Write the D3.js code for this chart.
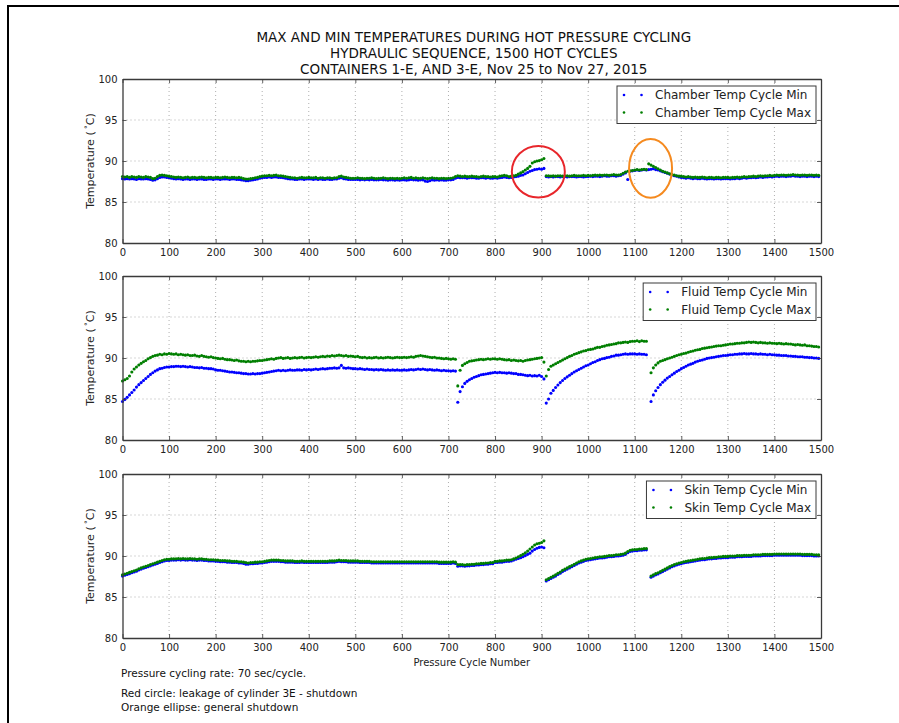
<!DOCTYPE html>
<html><head><meta charset="utf-8">
<script src="https://cdn.jsdelivr.net/npm/d3@7"></script>
<style>
body{margin:0;background:#fff}
svg{display:block}
text{font-family:"DejaVu Sans",sans-serif;fill:#222}
</style>
</head><body>
<svg id="chart" width="899" height="723"></svg>
<script>
// ---------------- DATA ----------------
const titleLines = [
  "MAX AND MIN TEMPERATURES DURING HOT PRESSURE CYCLING",
  "HYDRAULIC SEQUENCE, 1500 HOT CYCLES",
  "CONTAINERS 1-E, AND 3-E, Nov 25 to Nov 27, 2015"
];
const xTicks = [0,100,200,300,400,500,600,700,800,900,1000,1100,1200,1300,1400,1500];
const yTicks = [80,85,90,95,100];
const xLabel = "Pressure Cycle Number";
const footNotes = [
  "Pressure cycling rate: 70 sec/cycle.",
  "Red circle: leakage of cylinder 3E - shutdown",
  "Orange ellipse: general shutdown"
];
// cycle numbers sampled every 5 cycles (0..1495)
const cycles = d3.range(0, 1500, 5);

const chamberMin = [
87.85,87.8,87.85,87.8,87.85,87.8,87.75,87.85,87.8,87.8,87.85,87.8,87.75,87.65,87.7,87.85,88.0,88.05,88.05,88.0,
87.95,87.9,87.85,87.8,87.85,87.8,87.75,87.8,87.8,87.75,87.8,87.8,87.75,87.8,87.8,87.75,87.75,87.8,87.8,87.75,
87.8,87.8,87.75,87.8,87.8,87.8,87.75,87.8,87.8,87.75,87.75,87.7,87.65,87.6,87.6,87.65,87.7,87.75,87.8,87.9,
87.95,88.0,88.0,88.05,88.0,88.05,88.05,88.0,88.0,87.95,87.9,87.85,87.8,87.8,87.75,87.75,87.8,87.8,87.75,87.8,
87.8,87.8,87.75,87.8,87.75,87.8,87.75,87.75,87.8,87.75,87.75,87.8,87.8,87.9,87.95,87.85,87.8,87.75,87.75,87.75,
87.75,87.75,87.7,87.75,87.7,87.75,87.7,87.75,87.7,87.7,87.7,87.75,87.7,87.7,87.65,87.7,87.7,87.65,87.7,87.65,
87.7,87.7,87.65,87.7,87.75,87.7,87.7,87.65,87.7,87.7,87.55,87.5,87.6,87.7,87.65,87.7,87.65,87.7,87.65,87.65,
87.7,87.7,87.75,87.9,88.0,87.95,87.95,87.95,87.9,87.95,87.95,87.95,87.9,87.9,87.95,87.95,87.9,87.95,87.9,87.9,
87.95,87.9,87.95,88.0,88.05,88.0,87.95,88.0,88.05,88.1,88.15,88.25,88.3,88.45,88.6,88.75,88.85,88.95,89.0,89.05,
89.0,89.1,88.1,88.05,88.1,88.05,88.1,88.1,88.05,88.1,88.1,88.05,88.1,88.1,88.1,88.05,88.1,88.1,88.05,88.1,
88.1,88.15,88.1,88.15,88.15,88.1,88.15,88.2,88.15,88.15,88.2,88.2,88.15,88.2,88.25,88.4,88.55,87.75,88.75,88.8,
88.85,88.9,88.85,88.9,88.95,88.9,88.95,89.0,89.05,88.95,88.9,88.8,88.7,88.6,88.5,88.4,88.3,88.2,88.15,88.05,
88.0,87.95,87.9,87.95,87.9,87.85,87.9,87.85,87.85,87.9,87.85,87.8,87.85,87.85,87.8,87.85,87.85,87.8,87.85,87.85,
87.85,87.8,87.85,87.85,87.9,87.85,87.9,87.95,87.9,87.95,87.95,88.0,87.95,88.0,88.05,88.0,88.05,88.05,88.1,88.05,
88.1,88.15,88.1,88.15,88.15,88.1,88.15,88.15,88.2,88.15,88.15,88.1,88.15,88.15,88.1,88.15,88.15,88.1,88.15,88.1
];
const chamberMax = [
88.1,88.05,88.1,88.0,88.1,88.05,88.0,88.1,88.05,88.0,88.1,88.05,88.0,87.85,87.9,88.1,88.25,88.3,88.25,88.2,
88.15,88.1,88.05,88.0,88.05,88.0,87.95,88.0,88.05,87.95,88.0,88.0,87.95,88.0,88.05,88.0,87.95,88.0,88.0,87.95,
88.0,88.0,87.95,88.0,88.05,88.0,87.95,88.0,88.0,87.95,88.0,87.95,87.85,87.8,87.8,87.85,87.9,87.95,88.0,88.1,
88.15,88.2,88.2,88.25,88.2,88.25,88.3,88.2,88.2,88.15,88.1,88.05,88.0,87.95,87.95,87.9,87.95,88.0,87.95,87.95,
88.0,87.95,87.95,88.0,87.9,87.95,87.95,87.9,87.95,87.95,87.9,87.95,87.95,88.1,88.15,88.05,88.0,87.95,87.9,87.9,
87.9,87.95,87.9,87.9,87.85,87.9,87.9,87.95,87.9,87.85,87.9,87.9,87.95,87.9,87.85,87.9,87.9,87.85,87.9,87.85,
87.9,87.95,87.9,87.95,88.0,87.9,87.95,87.9,87.9,87.95,87.9,87.85,87.9,87.95,87.9,87.9,87.85,87.9,87.9,87.85,
87.9,87.9,87.95,88.1,88.2,88.15,88.1,88.15,88.1,88.1,88.15,88.1,88.1,88.05,88.1,88.15,88.1,88.1,88.05,88.1,
88.1,88.05,88.15,88.2,88.25,88.2,88.1,88.15,88.2,88.25,88.4,88.55,88.7,88.9,89.1,89.35,89.75,89.9,90.0,90.05,
90.15,90.3,88.2,88.2,88.15,88.2,88.15,88.2,88.2,88.15,88.2,88.2,88.15,88.2,88.25,88.2,88.2,88.2,88.25,88.2,
88.25,88.2,88.25,88.3,88.25,88.3,88.25,88.3,88.3,88.25,88.3,88.35,88.3,88.3,88.35,88.5,88.65,88.75,88.8,88.85,
88.9,88.95,88.9,88.95,89.0,88.95,89.65,89.5,89.35,89.2,89.05,88.9,88.75,88.65,88.55,88.45,88.35,88.3,88.2,88.15,
88.15,88.1,88.05,88.1,88.05,88.0,88.05,88.0,88.0,88.05,88.0,87.95,88.0,88.0,87.95,88.0,88.0,87.95,88.0,88.0,
88.0,87.95,88.0,88.0,88.05,88.0,88.05,88.1,88.05,88.1,88.1,88.15,88.1,88.15,88.2,88.15,88.2,88.2,88.25,88.2,
88.25,88.3,88.25,88.3,88.3,88.25,88.3,88.3,88.35,88.3,88.3,88.25,88.3,88.3,88.25,88.3,88.3,88.25,88.3,88.25
];
const fluidMin = [
84.7,84.95,85.2,85.5,85.8,86.1,86.45,86.75,87.0,87.25,87.5,87.75,88.0,88.2,88.4,88.55,88.7,88.75,88.85,88.9,
88.9,88.95,88.95,89.0,89.0,88.95,89.0,88.95,88.9,88.95,88.9,88.85,88.85,88.8,88.85,88.75,88.75,88.7,88.7,88.65,
88.55,88.5,88.5,88.45,88.4,88.35,88.3,88.3,88.25,88.2,88.2,88.15,88.1,88.1,88.05,88.05,88.1,88.05,88.1,88.1,
88.15,88.2,88.25,88.3,88.35,88.4,88.45,88.5,88.45,88.5,88.45,88.5,88.55,88.5,88.5,88.55,88.55,88.5,88.6,88.55,
88.6,88.55,88.6,88.65,88.6,88.65,88.7,88.65,88.7,88.75,88.75,88.8,88.75,88.8,89.1,88.8,88.75,88.8,88.75,88.7,
88.7,88.65,88.7,88.65,88.6,88.65,88.6,88.6,88.55,88.6,88.55,88.6,88.55,88.5,88.55,88.5,88.55,88.5,88.55,88.5,
88.5,88.55,88.5,88.55,88.6,88.55,88.6,88.65,88.6,88.65,88.6,88.55,88.6,88.55,88.5,88.55,88.5,88.45,88.5,88.45,
88.45,88.4,88.45,88.4,84.6,85.9,86.5,86.9,87.15,87.35,87.5,87.65,87.75,87.85,87.95,88.0,88.05,88.1,88.15,88.2,
88.25,88.2,88.25,88.2,88.2,88.15,88.2,88.15,88.1,88.1,88.0,88.0,87.95,87.9,87.85,87.9,87.8,87.85,87.8,87.9,
87.75,87.45,84.5,85.0,85.7,86.05,86.4,86.7,87.0,87.25,87.5,87.7,87.9,88.1,88.3,88.45,88.6,88.75,88.9,89.05,
89.15,89.3,89.45,89.55,89.7,89.8,89.9,89.95,90.05,90.1,90.2,90.25,90.35,90.35,90.4,90.45,90.5,90.45,90.5,90.5,
90.5,90.45,90.5,90.45,90.45,90.4,null,84.7,85.5,86.0,86.4,86.75,87.05,87.3,87.55,87.75,87.95,88.15,88.35,88.5,
88.7,88.85,89.0,89.15,89.25,89.35,89.5,89.6,89.7,89.75,89.85,89.95,90.0,90.05,90.1,90.15,90.2,90.25,90.3,90.3,
90.35,90.4,90.4,90.45,90.45,90.5,90.5,90.55,90.5,90.5,90.55,90.5,90.5,90.45,90.5,90.45,90.45,90.4,90.45,90.4,
90.4,90.35,90.35,90.3,90.3,90.3,90.25,90.25,90.2,90.2,90.15,90.15,90.15,90.1,90.1,90.05,90.05,90.0,90.0,89.95
];
const fluidMax = [
87.2,87.35,87.5,87.8,88.3,88.65,88.9,89.15,89.35,89.55,89.7,89.9,90.05,90.2,90.3,90.35,90.45,90.4,90.5,90.45,
90.55,90.5,90.45,90.5,90.4,90.45,90.4,90.35,90.4,90.3,90.3,90.35,90.25,90.2,90.3,90.2,90.15,90.1,90.15,90.05,
90.0,89.95,89.9,89.95,89.85,89.8,89.8,89.75,89.7,89.75,89.65,89.6,89.6,89.55,89.6,89.55,89.6,89.6,89.65,89.7,
89.7,89.75,89.8,89.85,89.9,89.85,89.95,90.0,90.05,89.95,90.0,90.05,89.95,90.0,90.05,90.0,90.05,90.1,90.0,90.05,
90.1,90.05,90.1,90.15,90.1,90.15,90.2,90.15,90.25,90.2,90.3,90.25,90.3,90.35,90.3,90.25,90.3,90.2,90.25,90.2,
90.15,90.2,90.1,90.05,90.1,90.0,90.05,90.0,90.05,90.1,90.0,90.05,90.0,90.05,90.1,90.05,90.0,90.05,90.1,90.05,
90.05,90.1,90.05,90.1,90.15,90.1,90.2,90.25,90.3,90.25,90.2,90.15,90.1,90.05,90.1,90.0,90.0,89.95,89.9,89.95,
89.9,89.85,89.9,89.85,86.6,88.5,89.1,89.3,89.45,89.6,89.65,89.7,89.75,89.8,89.85,89.8,89.85,89.9,89.85,89.9,
89.9,89.85,89.9,89.85,89.8,89.75,89.8,89.7,89.75,89.7,89.65,89.7,89.6,89.7,89.75,89.8,89.85,89.9,89.95,90.0,
90.05,89.5,87.8,88.6,89.0,89.15,89.3,89.45,89.6,89.75,89.9,90.05,90.2,90.3,90.45,90.55,90.65,90.75,90.85,90.9,
91.0,91.05,91.1,91.2,91.3,91.3,91.4,91.45,91.55,91.6,91.65,91.7,91.75,91.85,91.85,91.9,91.95,91.9,92.0,92.05,
92.05,92.1,92.0,92.1,92.05,92.05,null,88.2,88.8,89.15,89.4,89.6,89.7,89.8,89.9,90.0,90.1,90.2,90.3,90.4,
90.45,90.55,90.6,90.7,90.8,90.85,90.95,91.0,91.05,91.15,91.2,91.25,91.3,91.35,91.4,91.45,91.5,91.5,91.55,91.6,
91.65,91.7,91.7,91.75,91.8,91.8,91.85,91.85,91.9,91.95,91.9,91.95,91.9,91.85,91.9,91.85,91.85,91.8,91.85,91.8,
91.8,91.75,91.8,91.75,91.7,91.75,91.7,91.7,91.65,91.6,91.65,91.6,91.55,91.6,91.5,91.5,91.45,91.4,91.4,91.35
];
const skinMin = [
87.55,87.65,87.75,87.85,87.95,88.05,88.15,88.3,88.4,88.5,88.6,88.7,88.8,88.9,89.0,89.1,89.2,89.3,89.4,89.45,
89.45,89.5,89.5,89.5,89.55,89.5,89.55,89.5,89.5,89.55,89.5,89.5,89.45,89.5,89.5,89.45,89.45,89.4,89.4,89.4,
89.35,89.35,89.3,89.3,89.3,89.25,89.25,89.2,89.2,89.2,89.15,89.15,89.1,89.0,89.0,89.05,89.05,89.1,89.1,89.15,
89.15,89.2,89.25,89.3,89.35,89.35,89.35,89.35,89.3,89.3,89.25,89.25,89.25,89.25,89.2,89.2,89.2,89.25,89.2,89.2,
89.2,89.2,89.2,89.2,89.2,89.2,89.2,89.2,89.2,89.25,89.25,89.25,89.3,89.35,89.3,89.3,89.3,89.25,89.25,89.25,
89.25,89.25,89.2,89.2,89.2,89.2,89.2,89.15,89.15,89.15,89.15,89.15,89.15,89.15,89.15,89.15,89.15,89.15,89.15,89.15,
89.15,89.15,89.15,89.15,89.15,89.15,89.15,89.15,89.15,89.15,89.15,89.15,89.15,89.15,89.15,89.15,89.1,89.1,89.1,89.1,
89.1,89.1,89.15,89.1,88.75,88.8,88.8,88.75,88.8,88.8,88.85,88.85,88.9,88.9,88.95,88.95,89.0,89.0,89.05,89.05,
89.2,89.2,89.25,89.25,89.3,89.35,89.35,89.4,89.5,89.6,89.7,89.8,89.9,90.05,90.2,90.35,90.6,90.8,90.95,91.05,
91.1,91.0,86.95,87.1,87.25,87.4,87.55,87.75,87.9,88.1,88.25,88.4,88.55,88.7,88.85,89.0,89.15,89.25,89.35,89.45,
89.5,89.55,89.6,89.65,89.7,89.75,89.75,89.8,89.85,89.9,89.9,89.95,90.0,90.0,90.05,90.1,90.2,90.4,90.55,90.6,
90.65,90.65,90.7,90.7,90.75,90.75,null,87.4,87.55,87.7,87.8,87.95,88.1,88.25,88.4,88.55,88.7,88.8,88.9,89.0,
89.05,89.15,89.2,89.25,89.3,89.35,89.4,89.45,89.5,89.55,89.55,89.6,89.65,89.65,89.7,89.7,89.75,89.75,89.8,89.8,
89.8,89.85,89.85,89.85,89.9,89.9,89.9,89.95,89.95,89.95,89.95,90.0,90.0,90.0,90.0,90.05,90.05,90.05,90.05,90.05,
90.1,90.1,90.1,90.1,90.1,90.1,90.1,90.1,90.1,90.1,90.1,90.1,90.05,90.05,90.05,90.05,90.05,90.0,90.0,90.0
];
const skinMax = [
87.7,87.8,87.9,88.0,88.1,88.2,88.3,88.45,88.55,88.65,88.75,88.85,88.95,89.05,89.15,89.25,89.35,89.45,89.55,89.6,
89.6,89.65,89.65,89.65,89.7,89.65,89.7,89.65,89.65,89.7,89.65,89.65,89.6,89.65,89.65,89.6,89.6,89.55,89.55,89.55,
89.5,89.5,89.45,89.45,89.45,89.4,89.4,89.35,89.35,89.35,89.3,89.3,89.25,89.2,89.15,89.2,89.2,89.25,89.25,89.3,
89.3,89.35,89.4,89.45,89.5,89.5,89.5,89.5,89.45,89.45,89.4,89.4,89.4,89.4,89.35,89.35,89.35,89.4,89.35,89.35,
89.35,89.35,89.35,89.35,89.35,89.35,89.35,89.35,89.35,89.4,89.4,89.4,89.45,89.5,89.45,89.45,89.45,89.4,89.4,89.4,
89.4,89.4,89.35,89.35,89.35,89.35,89.35,89.3,89.3,89.3,89.3,89.3,89.3,89.3,89.3,89.3,89.3,89.3,89.3,89.3,
89.3,89.3,89.3,89.3,89.3,89.3,89.3,89.3,89.3,89.3,89.3,89.3,89.3,89.3,89.3,89.3,89.25,89.25,89.25,89.25,
89.25,89.25,89.3,89.25,88.95,88.95,88.95,88.9,88.95,88.95,89.0,89.0,89.05,89.05,89.1,89.1,89.15,89.15,89.2,89.2,
89.35,89.35,89.4,89.4,89.45,89.5,89.5,89.55,89.65,89.75,89.9,90.05,90.2,90.4,90.6,90.85,91.1,91.35,91.5,91.55,
91.65,91.85,87.1,87.25,87.4,87.55,87.7,87.9,88.05,88.25,88.4,88.55,88.7,88.85,89.0,89.15,89.3,89.4,89.5,89.6,
89.65,89.7,89.75,89.8,89.85,89.9,89.9,89.95,90.0,90.05,90.05,90.1,90.15,90.15,90.2,90.25,90.35,90.55,90.7,90.75,
90.8,90.8,90.85,90.85,90.9,90.9,null,87.55,87.7,87.85,87.95,88.1,88.25,88.4,88.55,88.7,88.85,88.95,89.05,89.15,
89.2,89.3,89.35,89.4,89.45,89.5,89.55,89.6,89.65,89.7,89.7,89.75,89.8,89.8,89.85,89.85,89.9,89.9,89.95,89.95,
89.95,90.0,90.0,90.0,90.05,90.05,90.05,90.1,90.1,90.1,90.1,90.15,90.15,90.15,90.15,90.2,90.2,90.2,90.2,90.2,
90.25,90.25,90.25,90.25,90.25,90.25,90.25,90.25,90.25,90.25,90.25,90.25,90.2,90.2,90.2,90.2,90.2,90.15,90.15,90.15
];
// annotation marks on the chamber panel (centre in data coordinates)
const redCircle = {cycle: 893, temp: 88.68};
const orangeEllipse = {cycle: 1134, temp: 89.1};

const panelDefs = [
  {name: "Chamber", min: chamberMin, max: chamberMax},
  {name: "Fluid", min: fluidMin, max: fluidMax},
  {name: "Skin", min: skinMin, max: skinMax}
];

// ---------------- LAYOUT ----------------
const svg = d3.select("#chart");
const L = 122.5, R = 821, PH = 164;
const tops = [79, 276, 474];
const minColor = "#0000ff", maxColor = "#007f00";
const spineColor = "#3a3a3a";
const dotR = 1.55;

// outer frame (top and left edges of the scanned page)
svg.append("path").attr("d", `M8,723 L8,6 L899,6`).attr("fill","none")
  .attr("stroke","#000").attr("stroke-width",2);

// title
titleLines.forEach((t,i)=>{
  svg.append("text").attr("x",(L+R)/2+2).attr("y",42+i*15.8)
    .attr("text-anchor","middle").attr("font-size",13.5).style("fill","#111").text(t);
});

const x = d3.scaleLinear().domain([0,1500]).range([L,R]);

panelDefs.forEach((p,pi)=>{
  const top = tops[pi], bot = top+PH;
  const y = d3.scaleLinear().domain([80,100]).range([bot,top]);
  const g = svg.append("g");

  // grid
  g.append("g").selectAll("line").data(xTicks.filter(v=>v>0&&v<1500)).join("line")
    .attr("x1",d=>x(d)).attr("x2",d=>x(d)).attr("y1",top).attr("y2",bot)
    .attr("stroke","#9a9a9a").attr("stroke-width",0.8).attr("stroke-dasharray","1,3");
  g.append("g").selectAll("line").data(yTicks.filter(v=>v>80&&v<100)).join("line")
    .attr("x1",L).attr("x2",R).attr("y1",d=>y(d)).attr("y2",d=>y(d))
    .attr("stroke","#9a9a9a").attr("stroke-width",0.8).attr("stroke-dasharray","1,3");

  // data points: min first, max on top
  const minPts = cycles.map((c,i)=>({c, v:p.min[i]})).filter(d=>d.v!=null);
  const maxPts = cycles.map((c,i)=>({c, v:p.max[i]})).filter(d=>d.v!=null);
  g.append("g").selectAll("circle").data(minPts).join("circle")
    .attr("cx",d=>x(d.c)).attr("cy",d=>y(d.v)).attr("r",dotR).attr("fill",minColor);
  g.append("g").selectAll("circle").data(maxPts).join("circle")
    .attr("cx",d=>x(d.c)).attr("cy",d=>y(d.v)).attr("r",dotR).attr("fill",maxColor);

  // axes (ticks point inward, as in classic matplotlib)
  const ax = g.append("g").attr("transform",`translate(0,${bot})`)
    .call(d3.axisBottom(x).tickValues(xTicks).tickSizeInner(-4).tickSizeOuter(0).tickPadding(5.5).tickFormat(d3.format("d")));
  const ay = g.append("g").attr("transform",`translate(${L},0)`)
    .call(d3.axisLeft(y).tickValues(yTicks).tickSizeInner(-4).tickSizeOuter(0).tickPadding(5).tickFormat(d3.format("d")));
  const at = g.append("g").attr("transform",`translate(0,${top})`)
    .call(d3.axisTop(x).tickValues(xTicks).tickSizeInner(-4).tickSizeOuter(0).tickFormat(""));
  const ar = g.append("g").attr("transform",`translate(${R},0)`)
    .call(d3.axisRight(y).tickValues(yTicks).tickSizeInner(-4).tickSizeOuter(0).tickFormat(""));
  [ax,ay,at,ar].forEach(a=>{
    a.select(".domain").attr("stroke",spineColor).attr("stroke-width",1.3);
    a.selectAll(".tick line").attr("stroke",spineColor).attr("stroke-width",0.8);
    a.selectAll("text").attr("font-size",10).attr("font-family","DejaVu Sans").style("fill","#222");
  });

  // y label
  const yl = svg.append("text").attr("transform",`translate(94,${(top+bot)/2}) rotate(-90)`)
    .attr("text-anchor","middle").attr("font-size",11);
  yl.append("tspan").text("Temperature (");
  yl.append("tspan").attr("font-size",7.5).attr("dy",-4).text(" \u00B0");
  yl.append("tspan").attr("dy",4).text("C)");

  // legend
  const entries = [{label:`${p.name} Temp Cycle Min`, color:minColor},
                   {label:`${p.name} Temp Cycle Max`, color:maxColor}];
  const lg = svg.append("g");
  const box = lg.append("rect").attr("fill","#fff").attr("stroke",spineColor).attr("stroke-width",1);
  const texts = entries.map((e,i)=>lg.append("text").attr("font-size",12)
      .attr("y",top+16+i*17.5).attr("dy","0.35em").text(e.label));
  const tw = d3.max(texts, t=>t.node().getComputedTextLength());
  const textEnd = R-10;
  const tx = textEnd - tw;
  texts.forEach(t=>t.attr("x",tx));
  entries.forEach((e,i)=>{
    [tx-31, tx-13.5].forEach(mx=>{
      lg.append("circle").attr("cx",mx).attr("cy",top+16+i*17.5).attr("r",1.3).attr("fill",e.color);
    });
  });
  box.attr("x",tx-38).attr("y",top+7).attr("width",textEnd+5-(tx-38)).attr("height",37.5);

  if(pi===0){
    svg.append("ellipse").attr("cx",x(redCircle.cycle)).attr("cy",y(redCircle.temp))
      .attr("rx",26.5).attr("ry",25.8).attr("fill","none").attr("stroke","#e8262b").attr("stroke-width",2);
    svg.append("ellipse").attr("cx",x(orangeEllipse.cycle)).attr("cy",y(orangeEllipse.temp))
      .attr("rx",21.5).attr("ry",29.3).attr("fill","none").attr("stroke","#f58a1f").attr("stroke-width",2);
  }
});

// x label
svg.append("text").attr("x",(L+R)/2).attr("y",665.5).attr("text-anchor","middle")
  .attr("font-size",10).text(xLabel);

// foot notes
const footY = [676.5, 696.5, 711];
footNotes.forEach((t,i)=>{
  svg.append("text").attr("x",121).attr("y",footY[i]).attr("font-size",10.5)
    .attr("font-family","Lato, 'Open Sans', sans-serif").style("fill","#111").text(t);
});
</script>
</body></html>
